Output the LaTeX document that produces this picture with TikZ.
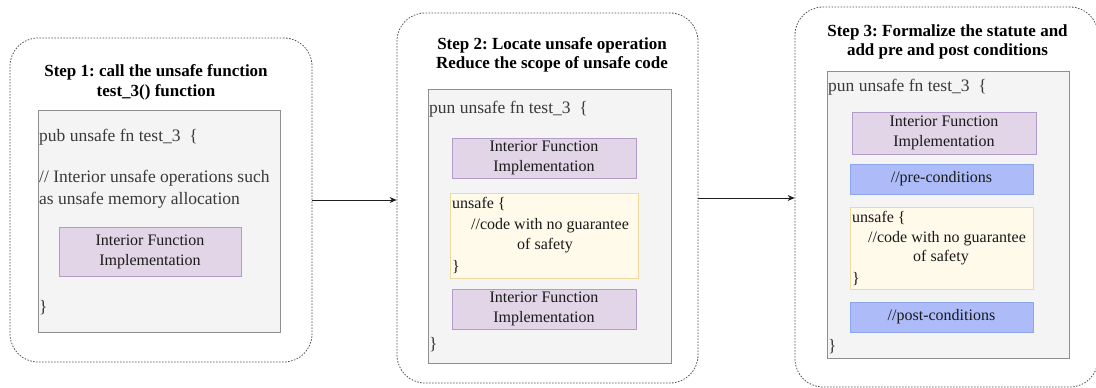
\documentclass[tikz,border=0pt]{standalone}
\usepackage{fontspec}
\setmainfont{Liberation Serif}[BoldFont={Liberation Serif Bold}, ItalicFont={Liberation Serif Italic}]
\frenchspacing
\usetikzlibrary{arrows.meta}

\definecolor{panelline}{HTML}{505050}
\definecolor{codefill}{HTML}{F4F4F4}
\definecolor{codeline}{HTML}{8E8E8E}
\definecolor{codetext}{HTML}{3A3A3A}
\definecolor{implfill}{HTML}{E1D5E7}
\definecolor{implline}{HTML}{B49CC8}
\definecolor{unsafefill}{HTML}{FFFAEA}
\definecolor{unsafeline}{HTML}{EFD9A0}
\definecolor{condfill}{HTML}{ADBCF8}
\definecolor{condline}{HTML}{8DA6EA}
\definecolor{arrowline}{HTML}{1E1E1E}

\begin{document}
\begin{tikzpicture}[x=1pt,y=-1pt,
  panel/.style={draw=panelline, dash pattern=on 1.5pt off 1.5pt, line width=0.8pt,
    rounded corners=28pt, inner sep=0pt},
  steptitle/.style={font=\bfseries\fontsize{17}{19.5}\selectfont, align=center, inner sep=0pt, text=black},
  codebox/.style={draw=codeline, fill=codefill, line width=1pt, inner sep=0pt},
  codetxt/.style={font=\fontsize{17.5}{22}\selectfont, text=codetext, anchor=west, inner sep=0pt, align=left},
  implbox/.style={draw=implline, fill=implfill, line width=1pt, align=center,
    font=\fontsize{16}{20}\selectfont, text=black!90, inner sep=0pt},
  unsafebox/.style={draw=unsafeline, fill=unsafefill, line width=1pt, inner sep=0pt},
  condbox/.style={draw=condline, fill=condfill, line width=1pt,
    font=\fontsize{16}{20}\selectfont, text=black!90, inner sep=0pt},
  innertxt/.style={font=\fontsize{16}{20}\selectfont, text=black!90, inner sep=0pt},
  flow/.style={draw=arrowline, line width=0.8pt, -{Stealth[length=7pt,width=6pt]}}
]
\useasboundingbox (0,0) rectangle (1096,388);
\clip (0,0) rectangle (1096,388);
\fill[white] (0,0) rectangle (1096,388);

% ---------- Step 1 ----------
\node[panel, minimum width=302, minimum height=324] (p1) at (161,200) {};
\node[steptitle] (t1) at (156,82.5) {Step 1: call the unsafe function\\test\_3() function};
\node[codebox, minimum width=242, minimum height=222] (c1) at (159,221) {};
\node[codetxt] (c1head) at (39,137) {pub unsafe fn test\_3~~\{};
\node[codetxt] (c1note) at (39,189) {// Interior unsafe operations such\\as unsafe memory allocation};
\node[implbox, minimum width=182, minimum height=49] (i1) at (150,251.5) {Interior Function\\Implementation};
\node[codetxt] (c1end) at (39,308) {\}};

% ---------- Step 2 ----------
\node[panel, minimum width=301, minimum height=370] (p2) at (547.5,198) {};
\node[steptitle] (t2) at (552,55) {Step 2: Locate unsafe operation\\Reduce the scope of unsafe code};
\node[codebox, minimum width=243, minimum height=274] (c2) at (549.5,226) {};
\node[codetxt] (c2head) at (429,109) {pun unsafe fn test\_3~~\{};
\node[implbox, minimum width=184, minimum height=40] (i2a) at (544,158) {Interior Function\\Implementation};
\node[unsafebox, minimum width=188, minimum height=85] (u2) at (544,235.5) {};
\node[innertxt, anchor=west] (u2open) at (452,204) {unsafe \{};
\node[innertxt] (u2code) at (550,226) {//code with no guarantee};
\node[innertxt] (u2safe) at (545,246) {of safety};
\node[innertxt, anchor=west] (u2close) at (452,267) {\}};
\node[implbox, minimum width=184, minimum height=40] (i2b) at (544,309) {Interior Function\\Implementation};
\node[codetxt] (c2end) at (429,345) {\}};

% ---------- Step 3 (its right side sits on the page edge) ----------
\node[panel, minimum width=303, minimum height=380] (p3) at (946.5,197) {};
\node[steptitle] (t3) at (947.5,42) {Step 3: Formalize the statute and\\add pre and post conditions};
\node[codebox, minimum width=242, minimum height=287] (c3) at (948,214.5) {};
\node[codetxt] (c3head) at (828,87) {pun unsafe fn test\_3~~\{};
\node[implbox, minimum width=184, minimum height=42] (i3) at (944,133) {Interior Function\\Implementation};
\node[condbox, minimum width=183, minimum height=30] (pre) at (941.5,179) {//pre-conditions};
\node[unsafebox, minimum width=183, minimum height=82] (u3) at (941.5,248) {};
\node[innertxt, anchor=west] (u3open) at (852,218) {unsafe \{};
\node[innertxt] (u3code) at (947,239) {//code with no guarantee};
\node[innertxt] (u3safe) at (941,258) {of safety};
\node[innertxt, anchor=west] (u3close) at (852,279) {\}};
\node[condbox, minimum width=183, minimum height=30] (post) at (941.5,317) {//post-conditions};
\node[codetxt] (c3end) at (828,347) {\}};

% ---------- flow between steps ----------
\draw[flow] (p1.east) -- (p1.east -| p2.west);
\draw[flow] (p2.east) -- (p2.east -| p3.west);
\end{tikzpicture}
\end{document}
